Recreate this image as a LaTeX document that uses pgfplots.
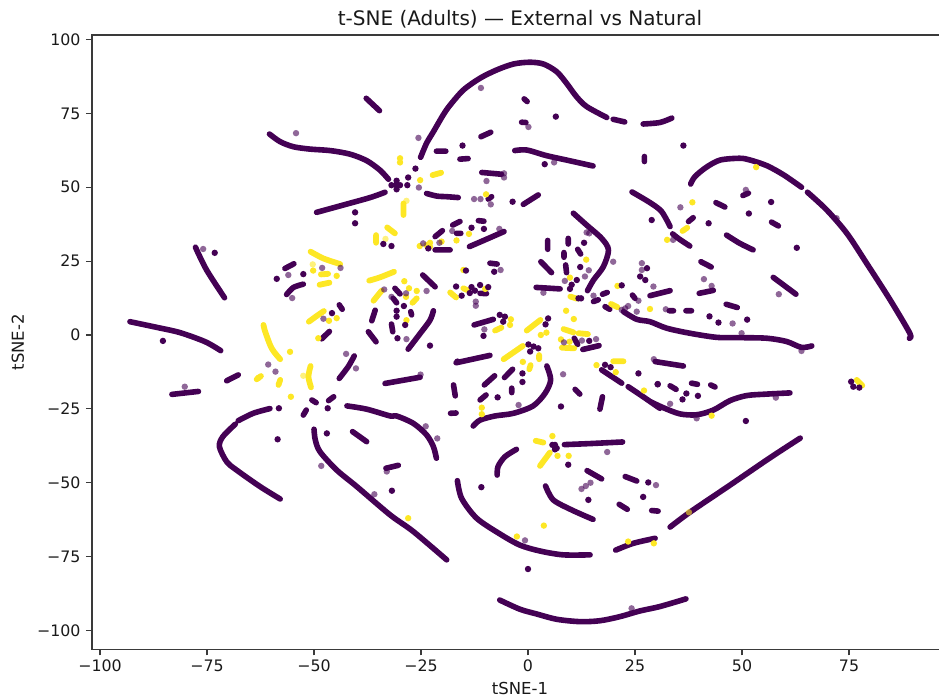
\documentclass[border=0pt]{standalone}
\usepackage{pgfplots}
\pgfplotsset{compat=1.18}
\usepackage{fontspec}
\setmainfont{DejaVu Sans}
\definecolor{vp}{HTML}{440154}
\definecolor{vy}{HTML}{FDE725}
\definecolor{spine}{HTML}{3A3A3A}
\pgfplotsset{
  pdot/.style={only marks,mark=*,mark size=3.2pt,mark options={solid,draw opacity=0,fill=vp}},
  ldot/.style={only marks,mark=*,mark size=3.2pt,mark options={solid,draw opacity=0,fill=vp,fill opacity=0.6}},
  ydot/.style={only marks,mark=*,mark size=3.2pt,mark options={solid,draw opacity=0,fill=vy}},
  lydot/.style={only marks,mark=*,mark size=3.2pt,mark options={solid,draw opacity=0,fill=vy,fill opacity=0.6}},
}
\begin{document}
\begin{tikzpicture}
\begin{axis}[
  scale only axis, width=856pt, height=614.5pt,
  xmin=-101.87, xmax=98.13, ymin=-106.43, ymax=101.52,
  xtick={-100,-75,-50,-25,0,25,50,75},
  xticklabels={−100,−75,−50,−25,0,25,50,75},
  ytick={-100,-75,-50,-25,0,25,50,75,100},
  yticklabels={−100,−75,−50,−25,0,25,50,75,100},
  tick align=outside, xtick pos=lower, ytick pos=left,
  major tick length=6pt,
  every tick/.style={line width=1.2pt,color=spine},
  axis line style={line width=1.2pt,color=spine},
  ticklabel style={font=\fontsize{15.8}{18}\selectfont,color=black!90},
  xticklabel style={yshift=-1pt},
  yticklabel style={xshift=-2pt},
  xlabel={tSNE-1}, ylabel={tSNE-2},
  label style={font=\fontsize{16.5}{19}\selectfont,color=black!90},
  xlabel style={yshift=-3pt},
  ylabel style={yshift=6pt},
  title={t-SNE (Adults) — External vs Natural},
  title style={font=\fontsize{20}{24}\selectfont,yshift=-3pt,color=black!90},
  unbounded coords=jump,
]
% ---------- purple runs
\addplot[color=vp,line width=5.6pt,line cap=round,line join=round,smooth,tension=0.5] table {
-37.8 80.1
-34.7 75.9
nan nan
-60.4 68.0
-57.9 65.4
-54.8 63.7
-50.9 62.9
-46.2 62.4
-41.6 61.2
-37.7 59.0
-34.6 55.8
-32.6 52.7
nan nan
-49.4 41.5
-43.1 44.0
-36.9 46.5
-33.4 48.3
nan nan
-77.7 29.7
-75.1 22.0
-70.9 12.6
nan nan
-93.0 4.5
-86.8 2.6
-81.3 0.8
-75.4 -2.3
-71.8 -5.3
nan nan
-56.8 22.5
-54.7 24.1
nan nan
-56.4 13.7
-54.8 16.1
-52.5 17.2
nan nan
-44.1 10.2
-43.4 8.7
nan nan
-48.2 -1.3
-46.4 1.2
nan nan
-31.1 15.8
-29.9 13.9
nan nan
-31.5 12.4
-30.7 10.9
nan nan
-27.4 7.9
-27.2 6.8
nan nan
-35.7 8.4
-36.5 4.8
nan nan
-31.9 3.7
-31.6 1.1
nan nan
-37.3 1.1
-35.5 -2.3
nan nan
-28.0 -4.8
-25.2 0.5
-22.9 5.0
-22.1 8.2
nan nan
-24.6 20.3
-21.7 16.3
nan nan
-23.7 47.9
-21.3 47.0
-19.0 46.8
-16.3 46.5
nan nan
-25.1 60.1
-23.7 64.9
-22.1 68.8
-19.8 74.5
-18.2 77.8
-15.1 82.9
-11.2 86.9
-7.3 89.7
-3.4 91.7
0.4 92.3
3.6 91.7
6.7 89.1
9.0 85.2
11.3 80.7
13.7 77.3
18.4 73.6
nan nan
19.9 73.0
22.6 72.1
nan nan
26.9 71.4
30.8 71.9
33.6 73.4
nan nan
-21.4 62.2
-19.2 62.2
nan nan
-15.9 59.5
-14.0 59.7
nan nan
-11.0 67.1
-8.7 68.6
nan nan
-10.8 55.0
-6.2 54.4
nan nan
-9.3 46.0
-8.5 46.8
nan nan
-1.1 44.2
2.4 47.4
nan nan
-0.9 79.9
-0.2 79.0
nan nan
-1.5 72.0
-0.5 71.9
nan nan
-3.1 62.4
-0.3 62.6
4.3 60.7
9.0 59.2
15.2 57.2
nan nan
27.2 60.4
27.2 58.7
nan nan
10.6 41.2
13.7 37.2
17.2 32.7
18.8 28.8
17.6 23.1
15.3 18.6
13.9 15.0
nan nan
4.6 32.0
4.6 29.0
nan nan
9.4 32.7
9.4 30.8
nan nan
11.6 29.0
12.3 27.4
nan nan
8.4 27.9
8.4 26.3
nan nan
8.8 23.7
9.0 21.1
nan nan
3.0 24.8
5.5 21.1
nan nan
1.9 16.1
7.5 15.6
nan nan
15.3 11.3
16.4 11.9
nan nan
17.4 13.8
18.5 14.4
nan nan
24.4 13.5
25.0 12.4
nan nan
18.0 9.6
19.1 8.7
nan nan
28.5 13.3
33.2 15.0
nan nan
22.3 7.9
25.4 5.3
28.5 4.5
32.4 2.3
37.8 0.6
44.1 -0.8
49.5 -0.9
55.8 -1.1
60.4 -2.2
63.9 -4.2
66.3 -3.7
nan nan
38.0 51.1
39.0 53.6
41.7 56.8
44.9 59.2
49.5 59.8
51.9 59.2
55.8 57.3
59.7 54.2
63.9 50.0
nan nan
65.3 48.3
69.8 42.3
74.5 34.4
79.1 24.3
84.6 11.9
89.2 0.6
89.1 -1.1
nan nan
50.2 47.2
51.5 48.0
nan nan
43.9 44.8
46.0 43.3
nan nan
56.9 38.2
58.5 36.9
nan nan
37.5 38.4
38.6 39.7
nan nan
24.3 48.4
28.5 44.8
31.2 41.8
33.2 36.7
nan nan
33.8 34.2
35.1 32.7
37.8 30.1
nan nan
46.4 33.8
49.5 31.0
52.6 28.8
nan nan
40.4 24.8
42.8 23.0
nan nan
40.0 14.1
43.3 15.1
nan nan
57.3 19.5
62.6 13.8
nan nan
46.3 10.4
48.9 9.3
nan nan
33.0 8.2
34.0 8.2
nan nan
36.9 8.2
38.2 8.2
nan nan
29.7 -9.0
36.3 -10.5
nan nan
33.2 -17.2
34.6 -18.4
nan nan
38.2 -16.3
39.6 -16.7
nan nan
42.7 -16.9
43.7 -17.6
nan nan
28.5 -22.5
31.6 -24.6
35.5 -26.7
39.4 -27.0
43.3 -25.4
47.2 -22.2
51.1 -20.5
55.8 -20.0
61.2 -19.6
nan nan
-8.9 24.3
-7.2 24.0
nan nan
-11.2 14.1
-9.7 14.0
nan nan
-12.6 3.4
-8.1 5.3
nan nan
-16.8 -9.4
-8.9 -6.9
nan nan
-10.2 -16.9
-7.8 -13.8
nan nan
-5.5 -14.4
-3.6 -11.6
nan nan
-3.8 -18.0
-3.8 -19.5
nan nan
-11.2 -22.0
-9.8 -20.3
nan nan
-17.4 -16.9
-17.0 -20.6
nan nan
-18.1 -26.5
-16.8 -26.4
nan nan
-12.8 -30.8
-11.2 -28.8
-7.7 -27.4
-3.4 -26.5
1.2 -24.0
4.0 -19.7
5.3 -15.2
4.4 -10.5
nan nan
11.0 -18.4
12.1 -20.0
nan nan
17.4 -20.9
16.8 -25.1
nan nan
17.2 -11.8
21.9 -16.3
nan nan
23.4 -17.5
26.9 -20.9
30.8 -24.8
nan nan
10.8 -1.1
11.6 -3.2
nan nan
12.8 -4.9
16.6 -3.6
nan nan
-33.4 -16.4
-25.2 -14.3
nan nan
-42.3 -24.0
-37.7 -25.1
-32.2 -27.4
-30.7 -27.4
-26.8 -29.9
-23.7 -33.8
-22.1 -37.8
-21.4 -41.7
nan nan
-33.2 -45.1
-30.3 -44.1
nan nan
-50.0 -31.9
-49.7 -35.5
-48.6 -39.5
-44.7 -45.7
-40.0 -51.3
-32.2 -60.9
-26.8 -66.5
-19.0 -76.1
nan nan
-41.0 -32.7
-37.7 -36.1
nan nan
-57.9 -55.5
-62.6 -51.3
-68.1 -45.7
-70.4 -42.9
-72.1 -37.8
-71.3 -34.4
-68.4 -30.2
nan nan
-67.7 -29.0
-64.2 -26.5
-60.3 -24.9
nan nan
-83.2 -20.1
-77.0 -19.1
nan nan
-70.4 -15.5
-67.7 -13.5
nan nan
-52.5 -27.1
-51.8 -25.4
nan nan
-50.5 -22.0
-49.5 -22.9
nan nan
-46.6 -22.2
-45.4 -20.9
nan nan
-44.1 -14.7
-42.0 -10.7
-40.6 -7.1
nan nan
-7.2 -47.4
-7.0 -44.5
-5.4 -41.2
-2.7 -38.7
nan nan
-16.5 -49.3
-15.5 -55.3
-12.0 -62.0
-6.6 -67.3
-1.9 -71.1
2.8 -73.1
8.2 -74.4
14.5 -74.4
nan nan
4.1 -51.1
5.9 -55.8
10.2 -59.2
15.2 -62.4
nan nan
8.5 -37.1
15.2 -36.7
22.1 -36.2
nan nan
13.8 -45.9
17.2 -48.7
nan nan
22.7 -47.9
25.4 -49.4
nan nan
28.9 -59.4
30.4 -59.6
nan nan
21.3 -57.3
23.2 -59.0
nan nan
20.5 -72.8
24.6 -70.5
29.7 -68.8
nan nan
33.2 -65.0
37.9 -59.9
47.2 -50.8
56.5 -41.6
63.6 -34.9
nan nan
-6.6 -89.7
-1.9 -92.8
2.0 -94.4
6.7 -96.2
12.1 -97.0
16.8 -96.7
21.5 -95.3
26.1 -93.4
30.8 -91.9
36.9 -89.3
nan nan
-21.7 33.3
-20.0 35.3
nan nan
-17.6 37.2
-15.9 38.4
nan nan
-16.7 34.4
-15.7 34.4
nan nan
-11.6 38.7
-10.3 38.5
nan nan
-13.7 29.9
-10.5 31.9
-5.6 35.0
nan nan
-21.7 28.8
-18.2 28.8
};
% ---------- yellow runs
\addplot[color=vy,line width=5.8pt,line cap=round,line join=round,smooth,tension=0.5] table {
-50.8 28.2
-47.8 25.9
-43.9 24.0
nan nan
-48.4 20.5
-46.7 20.7
nan nan
-48.7 17.0
-46.4 17.7
nan nan
-51.2 4.5
-49.4 6.4
-47.7 8.1
nan nan
-61.8 3.4
-61.4 1.1
-59.9 -4.5
-57.9 -8.2
nan nan
-35.5 33.8
-35.5 31.2
nan nan
-32.9 36.4
-31.1 34.4
nan nan
-29.1 40.6
-29.1 44.5
nan nan
-22.3 54.1
-20.3 54.9
nan nan
-37.1 18.4
-34.6 19.5
-31.3 21.4
nan nan
-36.1 11.6
-34.2 15.0
nan nan
-27.0 10.9
-26.0 12.4
nan nan
-18.2 14.4
-16.8 12.7
nan nan
-15.1 15.8
-14.2 15.2
nan nan
-7.7 1.5
-6.2 2.5
nan nan
-0.3 1.5
2.9 5.1
nan nan
-5.7 -8.2
-1.2 -3.7
nan nan
2.6 -6.8
2.6 -8.2
nan nan
0.3 -11.6
0.6 -10.2
nan nan
8.3 2.0
10.6 0.9
nan nan
11.8 0.6
14.0 0.3
nan nan
7.9 -4.3
10.8 -4.5
nan nan
19.9 -8.9
22.3 -8.9
nan nan
9.9 13.0
11.4 12.3
nan nan
19.4 10.5
20.9 9.4
nan nan
36.1 35.2
37.2 36.3
nan nan
76.8 -15.2
78.1 -17.1
nan nan
1.8 -35.8
3.6 -36.4
nan nan
2.8 -44.3
5.1 -39.8
nan nan
-63.4 -15.0
-62.4 -13.9
nan nan
-58.3 -16.9
-57.9 -15.2
nan nan
-50.8 -10.5
-51.3 -14.1
-50.7 -17.7
};
% ---------- yellow single points
\addplot[ydot] table {
-50.2 21.8
-44.7 20.0
-46.5 4.8
-44.7 5.7
-25.2 52.4
-28.9 18.2
-27.8 15.8
-26.0 14.9
-28.4 5.0
-29.9 59.8
-29.9 58.4
-9.8 47.6
13.6 25.5
9.8 19.4
20.9 16.6
8.9 8.2
10.7 5.4
28.5 8.8
-13.8 34.2
-16.7 32.0
-25.3 30.1
-22.9 31.2
-22.9 29.9
-23.7 30.4
-20.2 31.6
-15.1 22.0
-10.0 15.6
-4.0 5.3
-4.2 3.4
3.0 0.0
4.3 0.8
-1.2 -9.1
-10.8 -24.6
-10.8 -26.8
16.0 -10.2
20.5 -12.6
27.1 -18.8
7.7 -1.5
9.7 -2.3
53.3 56.8
38.4 44.9
32.5 32.2
42.9 -27.3
23.4 -69.9
29.4 -70.5
-28.0 -62.0
-2.6 -68.2
3.7 -64.5
5.7 -34.2
6.9 -40.9
9.5 -40.9
-49.0 -1.1
-63.0 -14.5
-55.6 -5.7
-55.4 -20.9
-28.5 12.9
};
\addplot[lydot] table {
-50.3 23.9
-33.3 32.5
-28.4 45.4
-52.5 -13.8
37.6 -60.0
};
% ---------- solid single points
\addplot[pdot] table {
-40.4 41.5
-40.4 37.8
-73.2 27.8
-85.3 -2.0
-58.7 19.0
-52.5 20.6
-45.8 7.4
-33.8 30.8
-31.9 30.1
-30.7 50.7
-31.9 50.7
-29.9 50.7
-30.7 52.2
-30.7 49.3
-28.2 50.7
-28.0 53.3
-29.0 9.8
-30.7 8.2
-30.7 6.2
-28.7 3.4
-30.5 -1.1
-22.9 -3.6
-16.5 -9.0
-15.3 64.1
-26.3 56.3
-3.6 45.1
6.5 73.9
3.9 57.8
13.1 31.2
12.2 23.0
11.4 18.6
10.2 17.0
9.8 15.6
12.4 12.4
11.8 12.4
21.9 16.8
27.8 22.6
26.2 19.8
27.4 18.6
36.3 64.1
56.8 45.0
51.6 41.1
42.2 37.8
28.9 38.9
62.8 29.5
42.4 6.3
44.5 4.2
51.2 5.2
30.3 -16.7
37.0 -19.8
36.1 -21.8
39.7 -20.6
50.9 -29.1
75.5 -15.8
76.0 -17.5
77.4 -17.8
-7.9 21.4
-14.5 21.8
-16.8 16.4
-15.5 13.3
-13.2 16.2
-11.2 16.9
-12.4 15.0
-13.6 14.2
-9.3 16.2
-6.6 6.8
-5.4 6.2
-5.8 4.5
-10.4 -0.3
4.7 5.6
4.1 3.6
0.1 -3.2
2.4 -4.5
0.5 -5.6
1.3 -3.9
-1.3 -13.0
-1.3 -15.9
-7.1 -21.1
7.7 -24.2
18.0 -10.1
19.3 -10.9
25.8 -13.0
30.3 -16.6
14.3 -2.0
-31.8 -52.7
-58.2 -24.8
-58.5 -35.3
-46.8 -24.8
-47.0 -33.3
-10.9 -51.5
0.0 -79.2
9.4 -43.9
14.1 -55.8
28.1 -49.9
26.9 -54.8
5.7 -37.2
6.3 -37.2
6.7 -38.3
6.3 -38.7
-13.2 36.3
-10.3 35.9
-23.3 29.3
};
% ---------- lighter single points
\addplot[ldot] table {
-54.2 68.3
-75.9 29.1
-55.1 12.5
-56.0 20.3
-48.1 22.7
-43.8 22.7
-47.8 5.5
-25.5 49.9
-33.6 15.4
-23.7 14.9
-28.5 14.1
-31.9 12.9
-28.4 -1.4
-25.6 66.7
-5.6 54.7
-5.6 53.3
-9.7 52.1
-12.6 46.0
-11.1 46.0
-8.7 44.2
0.1 70.4
-11.0 83.6
6.1 58.4
13.7 34.7
14.3 34.4
14.2 21.9
13.3 19.8
19.9 24.8
8.6 18.3
3.6 14.3
15.3 13.3
25.8 11.6
25.4 7.9
22.7 9.0
23.4 9.8
21.9 8.5
26.6 24.3
26.6 22.0
29.3 16.4
49.9 0.6
63.9 -5.4
50.9 49.1
72.1 39.5
35.6 43.2
33.9 32.2
41.1 18.9
42.9 16.6
58.6 13.8
32.2 8.7
47.8 3.9
29.4 -8.2
33.2 -23.3
57.9 -21.2
39.4 -28.2
-6.4 22.0
-12.2 11.3
-12.2 9.9
-10.2 1.9
-2.2 -23.7
8.2 -13.3
8.4 -2.5
12.6 -1.9
15.9 -1.4
-25.1 -13.4
-23.9 -30.9
-21.2 -35.0
-33.0 -46.2
-48.3 -44.3
-35.9 -53.9
-80.2 -17.5
-60.7 -10.0
-59.0 -12.4
-42.5 -6.4
-40.2 -11.3
-0.7 -69.5
18.5 -39.6
12.5 -52.1
13.5 -51.1
14.6 -50.0
29.9 -50.8
24.2 -92.5
-17.7 35.2
-6.7 35.9
-24.5 31.0
-20.7 31.2
};
\end{axis}
\pgfresetboundingbox
\path[use as bounding box] (-92pt,-50.5pt) rectangle (847pt,649.5pt);
\end{tikzpicture}
\end{document}
